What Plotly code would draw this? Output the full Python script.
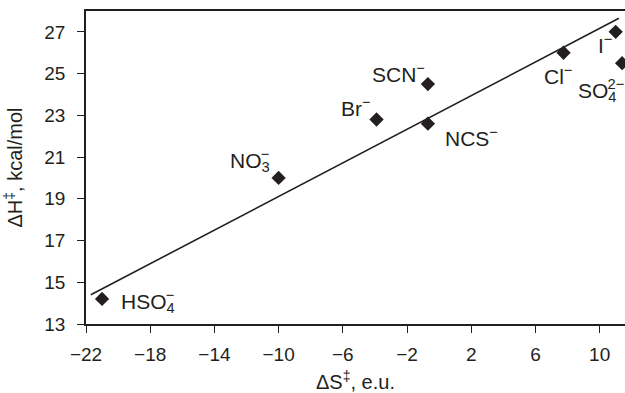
import plotly.graph_objects as go

# Data
ions = ["HSO4-", "NO3-", "Br-", "SCN-", "NCS-", "Cl-", "I-", "SO4 2-"]
dS = [-21.0, -10.0, -3.9, -0.7, -0.7, 7.75, 11.0, 11.4]
dH = [14.2, 20.0, 22.8, 24.5, 22.6, 26.0, 27.0, 25.5]

fit_x = [-21.7, 11.2]
fit_y = [14.4, 27.65]

label_text = [
    "HSO<sub><span style='letter-spacing:-9px'>4</span></sub><sup>−</sup>",
    "NO<sub><span style='letter-spacing:-9px'>3</span></sub><sup>−</sup>",
    "Br<sup>−</sup>",
    "SCN<sup>−</sup>",
    "NCS<sup>−</sup>",
    "Cl<sup>−</sup>",
    "I<sup>−</sup>",
    "SO<sub><span style='letter-spacing:-9px'>4</span></sub><sup>2−</sup>",
]
label_x = [-19.95, -10.4, -4.1, -0.75, 0.25, 6.4, 9.8, 8.5]
label_y = [14.15, 20.9, 23.4, 25.05, 21.95, 24.95, 26.4, 24.25]
label_anchor = ["left", "right", "right", "right", "left", "left", "left", "left"]

xticks = [-22, -18, -14, -10, -6, -2, 2, 6, 10]
yticks = [13, 15, 17, 19, 21, 23, 25, 27]

FONT = "Liberation Sans, Arial, Helvetica, sans-serif"
INK = "#231f20"

fig = go.Figure()
fig.add_trace(go.Scatter(x=fit_x, y=fit_y, mode="lines",
                         line=dict(color=INK, width=1.6), hoverinfo="skip"))
fig.add_trace(go.Scatter(x=dS, y=dH, mode="markers", text=ions,
                         marker=dict(symbol="diamond", size=11, color=INK)))

for t, x, y, a in zip(label_text, label_x, label_y, label_anchor):
    fig.add_annotation(x=x, y=y, text=t, showarrow=False, xanchor=a, yanchor="middle",
                       font=dict(family=FONT, size=21, color=INK))

fig.update_layout(
    width=625, height=393,
    margin=dict(l=86, r=0, t=11, b=67),
    paper_bgcolor="white", plot_bgcolor="white",
    showlegend=False,
    font=dict(family=FONT, size=19, color=INK),
)
fig.update_xaxes(
    range=[-22, 11.58], tickvals=xticks,
    ticktext=[str(v).replace("-", "−") for v in xticks],
    showgrid=False, zeroline=False,
    showline=True, linecolor=INK, linewidth=1.5, mirror=True,
    ticks="outside", ticklen=7, tickwidth=1.2, tickcolor=INK,
    ticklabelstandoff=5,
    tickfont=dict(family=FONT, size=19, color=INK),
    title=dict(text="ΔS<sup>‡</sup>, e.u.", standoff=14,
               font=dict(family=FONT, size=20, color=INK)),
)
fig.update_yaxes(
    range=[13, 28], tickvals=yticks,
    showgrid=False, zeroline=False,
    showline=True, linecolor=INK, linewidth=1.5,
    ticks="outside", ticklen=7, tickwidth=1.2, tickcolor=INK,
    ticklabelstandoff=8,
    tickfont=dict(family=FONT, size=19, color=INK),
    title=dict(text="ΔH<sup>‡</sup>, kcal/mol", standoff=16,
               font=dict(family=FONT, size=20, color=INK)),
)

fig.write_html("out.html", config={"displayModeBar": False},
               post_script="document.body.style.margin='0';")
